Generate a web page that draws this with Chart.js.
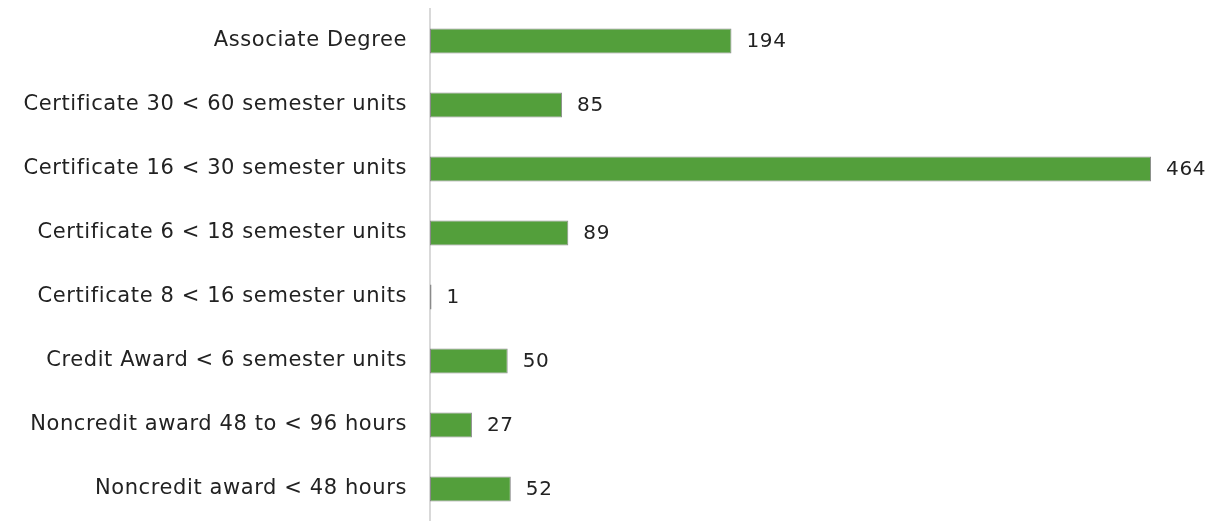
<!DOCTYPE html>
<html lang="en">
<head>
<meta charset="UTF-8">
<title>Awards by type</title>
<script src="https://cdn.jsdelivr.net/npm/chart.js"></script>
<style>
  html, body { margin: 0; padding: 0; background: #fff; }
  #wrap { width: 1220px; height: 521px; position: relative; }
</style>
</head>
<body>
<div id="wrap"><canvas id="awardsChart"></canvas></div>
<script>
// award types, top to bottom
const awardTypes = [
  'Associate Degree',
  'Certificate 30 < 60 semester units',
  'Certificate 16 < 30 semester units',
  'Certificate 6 < 18 semester units',
  'Certificate 8 < 16 semester units',
  'Credit Award < 6 semester units',
  'Noncredit award 48 to < 96 hours',
  'Noncredit award < 48 hours'
]
const awardCounts = [194, 85, 464, 89, 1, 50, 27, 52]

const FONT = '"DejaVu Sans", sans-serif'

// a little extra letter spacing, the original typeface is wide
const spacing = {
  id: 'spacing',
  beforeDraw(chart) { chart.ctx.letterSpacing = '0.6px' },
  afterDraw(chart) { chart.ctx.letterSpacing = '0px' }
}

// value labels at the end of each bar
const valueLabels = {
  id: 'valueLabels',
  afterDatasetsDraw(chart) {
    const ctx = chart.ctx
    const meta = chart.getDatasetMeta(0)
    ctx.save()
    ctx.font = '20px ' + FONT
    ctx.fillStyle = '#222'
    ctx.textBaseline = 'middle'
    ctx.textAlign = 'left'
    meta.data.forEach((bar, i) => {
      ctx.fillText(String(awardCounts[i]), bar.x + 15, bar.y + 1)
    })
    ctx.restore()
  }
}

new Chart(document.getElementById('awardsChart'), {
  type: 'bar',
  data: {
    labels: awardTypes,
    datasets: [{
      data: awardCounts,
      backgroundColor: '#539f3b',
      borderColor: '#8a8a8a',
      borderWidth: 1,
      borderSkipped: false,
      categoryPercentage: 1,
      barPercentage: 0.39
    }]
  },
  options: {
    indexAxis: 'y',
    responsive: true,
    maintainAspectRatio: false,
    animation: false,
    layout: { padding: { top: 9, right: 13, bottom: 0, left: 0 } },
    plugins: {
      legend: { display: false },
      tooltip: { enabled: false }
    },
    scales: {
      x: {
        display: false,
        min: 0,
        max: 500
      },
      y: {
        grid: { display: false },
        border: { display: true, color: '#d9d9d9', width: 2 },
        ticks: {
          color: '#222',
          padding: 15,
          font: { family: FONT, size: 21 }
        },
        afterFit(scale) {
          scale.width = 430
          // don't let label heights + padding push the plot area in
          scale.paddingTop = 0
          scale.paddingBottom = 0
        }
      }
    }
  },
  plugins: [spacing, valueLabels]
})
</script>
</body>
</html>
